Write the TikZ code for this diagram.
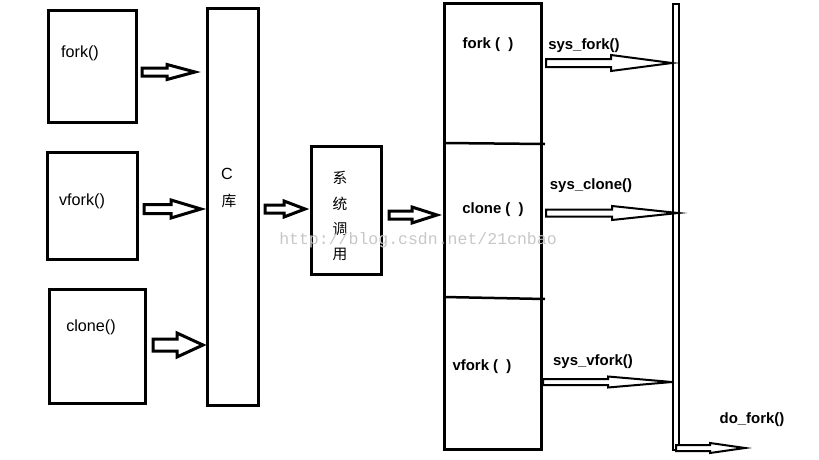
\documentclass[tikz,border=0pt]{standalone}
\usepackage{fontspec}
\setmainfont{Liberation Sans}
\newfontfamily\cjk{Noto Sans CJK SC}
\newfontfamily\markfont{Liberation Mono}
\usetikzlibrary{positioning}

\tikzset{
  box/.style={draw, line width=0.06cm, minimum width=#1},
  callname/.style={inner sep=0pt, font=\fontsize{9.2pt}{10pt}\selectfont},
  sysname/.style={inner sep=0pt, font=\fontsize{8.5pt}{10pt}\selectfont\bfseries},
  hanzi/.style={inner sep=0pt, font=\cjk\fontsize{8.4pt}{9pt}\selectfont},
  fatline/.style={draw, fill=white, line width=0.06cm, line join=miter},
  thinline/.style={draw, fill=white, line width=0.04cm, line join=miter},
}

% hollow arrow: [style] {x tail}{x tip}{y}{half shaft}{half head}{x head}
\newcommand{\fatarrow}[7][fatline]{%
  \draw[#1] (#2,#4-#5) -- (#7,#4-#5) -- (#7,#4-#6) -- (#3,#4)
    -- (#7,#4+#6) -- (#7,#4+#5) -- (#2,#4+#5) -- cycle;}

\begin{document}
\begin{tikzpicture}[x=0.02cm, y=-0.02cm]
  \useasboundingbox (0,0) rectangle (819,460);

  % Calls in user space
  \node[box=1.78cm, minimum height=2.26cm] (fork) at (92.5,66.5) {};
  \node[box=1.82cm, minimum height=2.16cm] (vfork) at (92.5,206) {};
  \node[box=1.94cm, minimum height=2.30cm] (clone) at (97.5,346.5) {};
  \node[callname] (forklabel) at (80,53) {fork()};
  \node[callname] (vforklabel) at (82,201) {vfork()};
  \node[callname] (clonelabel) at (91,327) {clone()};

  % C library
  \node[box=1.04cm, minimum height=7.96cm] (clib) at (233,207) {};
  \node[callname] (clibC) at (227,174) {C};
  \node[hanzi] (clibku) at (229,201) {库};

  % System call
  \node[box=1.42cm, minimum height=2.58cm] (syscall) at (346.5,210.5) {};
  \node[hanzi] (sys1) at (340,178) {系};
  \node[hanzi] (sys2) at (340,204) {统};
  \node[hanzi] (sys3) at (340,229) {调};
  \node[hanzi] (sys4) at (340,254) {用};

  % Kernel entry points
  \node[box=1.96cm, minimum height=8.94cm] (kernel) at (493,226.5) {};
  \draw[line width=0.05cm] (444,143) -- (545,144);
  \draw[line width=0.05cm] (444,297) -- (545,299);
  \node[sysname] (kfork) at (488,45) {fork ( \ )};
  \node[sysname] (kclone) at (493,210) {clone ( \ )};
  \node[sysname] (kvfork) at (482,367) {vfork ( \ )};

  % do_fork bar
  \draw[line width=0.045cm] (673,4) rectangle (679,450);
  \node[sysname] (dofork) at (752,420) {do\_fork()};

  % Arrows to the C library
  \fatarrow{142}{195}{72}{4}{7.5}{167}
  \fatarrow{144}{201}{209}{4.5}{9}{171}
  \fatarrow{153}{203}{345}{6}{12}{177}

  % Arrows to the system call and the kernel
  \fatarrow{265}{305}{209}{4}{8}{284}
  \fatarrow{389}{437}{215}{4}{8}{412}

  % Arrows to do_fork
  \fatarrow[thinline]{546}{672}{63}{4}{8}{611}
  \fatarrow[thinline]{546}{678}{213}{3.5}{7}{612}
  \fatarrow[thinline]{543}{672}{382}{3}{5.5}{608}
  \fatarrow[thinline]{676}{745}{448}{3}{5}{710}
  \node[sysname] (sysfork) at (584,46) {sys\_fork()};
  \node[sysname] (sysclone) at (591,186) {sys\_clone()};
  \node[sysname] (sysvfork) at (593,362) {sys\_vfork()};

  % Watermark
  \node[inner sep=0pt, text=black!22, font=\markfont\fontsize{9.4pt}{10pt}\selectfont] (mark) at (418,240) {http://blog.csdn.net/21cnbao};
\end{tikzpicture}
\end{document}
